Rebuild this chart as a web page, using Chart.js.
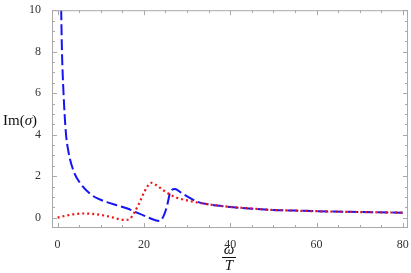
<!DOCTYPE html>
<html>
<head>
<meta charset="utf-8">
<script src="https://cdn.jsdelivr.net/npm/chart.js@4"></script>
<style>
  html, body { margin: 0; padding: 0; background: #fff; }
  #wrap { width: 411px; height: 273px; }
</style>
</head>
<body>
<div id="wrap"><canvas id="myChart" width="411" height="273"></canvas></div>
<script>
// data
const blueX = [0.72, 0.83, 1.0, 1.37, 1.9, 2.5, 3.7, 5.1, 7.5, 9.5, 11.4, 14, 16, 18.4, 20, 21.4, 23.6, 24.6, 25.4, 26.1, 27.2, 28.5, 30, 32.6, 35, 37, 40, 45, 50, 55, 60, 70, 80];
const blueY = [11.5, 10, 8.1, 6.0, 4.13, 3.19, 2.25, 1.7, 1.15, 0.9, 0.75, 0.58, 0.45, 0.24, 0.1, -0.03, -0.16, 0.1, 0.6, 1.22, 1.38, 1.22, 1.02, 0.75, 0.64, 0.58, 0.51, 0.43, 0.37, 0.34, 0.31, 0.27, 0.24];
const redX = [0, 2, 4, 6, 8, 10, 12, 14, 15.8, 16.8, 17.8, 18.8, 19.9, 20.8, 21.7, 23, 24.5, 26, 27.6, 30, 32, 35, 40, 45, 50, 55, 60, 70, 80];
const redY = [0, 0.1, 0.17, 0.2, 0.18, 0.13, 0.05, -0.06, -0.11, -0.05, 0.25, 0.65, 1.15, 1.5, 1.68, 1.55, 1.32, 1.12, 0.96, 0.83, 0.74, 0.64, 0.52, 0.44, 0.37, 0.34, 0.31, 0.27, 0.24];
const xTicks = [0, 20, 40, 60, 80];
const yTicks = [0, 2, 4, 6, 8, 10];

const toPts = (xs, ys) => xs.map((x, i) => ({ x: x, y: ys[i] }));

// frame with inward ticks on all four sides, plus axis titles
const framePlugin = {
  id: 'frame',
  afterDraw(chart) {
    const c = chart.ctx, a = chart.chartArea;
    const xs = chart.scales.x, ys = chart.scales.y;
    c.save();
    c.strokeStyle = '#aaaaaa';
    c.lineWidth = 1;
    c.strokeRect(a.left + 0.5, a.top + 0.5, a.right - a.left - 1, a.bottom - a.top - 1);
    c.beginPath();
    for (let v = 0; v <= 80; v += 5) {
      const p = Math.round(xs.getPixelForValue(v)) + 0.5;
      const len = v % 20 === 0 ? 5 : 3;
      c.moveTo(p, a.bottom); c.lineTo(p, a.bottom - len);
      c.moveTo(p, a.top); c.lineTo(p, a.top + len);
    }
    for (let v = 0; v <= 10; v += 0.5) {
      const p = Math.round(ys.getPixelForValue(v)) + 0.5;
      const len = v % 2 === 0 ? 5 : 3;
      c.moveTo(a.left, p); c.lineTo(a.left + len, p);
      c.moveTo(a.right, p); c.lineTo(a.right - len, p);
    }
    c.stroke();

    // y title
    c.fillStyle = '#111';
    c.textBaseline = 'middle';
    c.textAlign = 'left';
    c.font = '15px "Liberation Serif"';
    let x0 = 3;
    c.fillText('Im(', x0, 121);
    x0 += c.measureText('Im(').width;
    c.font = 'italic 15px "Liberation Serif"';
    c.fillText('σ', x0, 121);
    x0 += c.measureText('σ').width;
    c.font = '15px "Liberation Serif"';
    c.fillText(')', x0, 121);

    // x title as a fraction
    const cx = 229;
    c.textAlign = 'center';
    c.font = 'italic 15px "Liberation Serif"';
    c.fillText('ω', cx, 250);
    c.fillText('T', cx, 266);
    c.fillRect(cx - 7, 257, 14, 1);
    c.restore();
  }
};

const ctx = document.getElementById('myChart').getContext('2d');
new Chart(ctx, {
  type: 'line',
  data: {
    datasets: [
      {
        label: 'blue',
        data: toPts(blueX, blueY),
        borderColor: 'rgb(20, 20, 245)',
        borderWidth: 2,
        borderDash: [11, 4],
        pointRadius: 0,
        cubicInterpolationMode: 'monotone',
        order: 2
      },
      {
        label: 'red',
        data: toPts(redX, redY),
        borderColor: 'rgb(240, 20, 20)',
        borderWidth: 2.2,
        borderDash: [2, 3],
        pointRadius: 0,
        cubicInterpolationMode: 'monotone',
        order: 1
      }
    ]
  },
  options: {
    responsive: false,
    animation: false,
    layout: { padding: { top: 5, right: 3, left: 0, bottom: 0 } },
    plugins: { legend: { display: false }, tooltip: { enabled: false } },
    scales: {
      x: {
        type: 'linear',
        min: -1.3,
        max: 81.2,
        afterBuildTicks: s => { s.ticks = xTicks.map(v => ({ value: v })); },
        afterFit: s => { s.height = 45; },
        grid: { display: false },
        border: { display: false },
        ticks: { color: '#333', padding: 2, maxRotation: 0, font: { family: 'Liberation Serif', size: 12 } }
      },
      y: {
        type: 'linear',
        min: -0.5,
        max: 10,
        afterBuildTicks: s => { s.ticks = yTicks.map(v => ({ value: v })); },
        afterFit: s => { s.width = 52; },
        grid: { display: false },
        border: { display: false },
        ticks: { color: '#333', padding: 3, font: { family: 'Liberation Serif', size: 12 } }
      }
    }
  },
  plugins: [framePlugin]
});
</script>
</body>
</html>
